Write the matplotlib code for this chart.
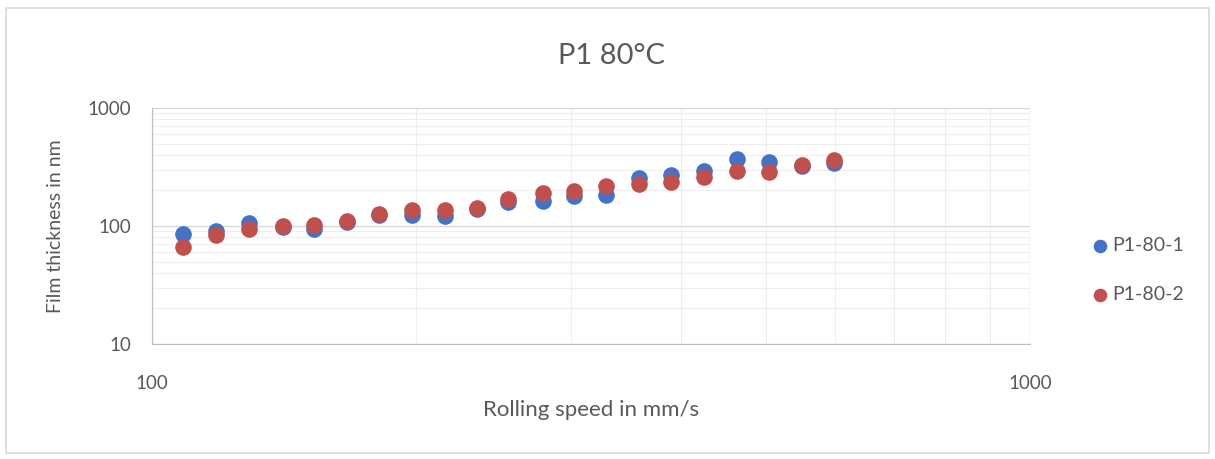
import numpy as np
import matplotlib.pyplot as plt
from matplotlib.ticker import LogLocator, FixedLocator, NullFormatter
from matplotlib.patches import Rectangle

plt.rcParams['font.family'] = ['Lato', 'DejaVu Sans']

speed = [108.5, 118.3, 129.0, 141.0, 152.9, 166.8, 181.4, 197.8, 215.7, 234.6,
         254.4, 278.8, 302.4, 329.0, 358.6, 390.0, 425.3, 463.9, 504.4, 549.9, 598.4]
film_1 = [85.5, 91.3, 106, 98, 94.4, 108, 125, 125, 120.5, 140,
          158.6, 161.6, 180.6, 184, 255, 272, 290, 372, 349, 322, 342]
film_2 = [65.9, 83.2, 94.4, 99.3, 102.6, 109.4, 127, 135.5, 137, 142,
          169.5, 190.5, 196.5, 219.6, 228, 236, 258, 294, 287, 327, 365]
labels = ["P1-80-1", "P1-80-2"]

txt = "#595959"
fig = plt.figure(figsize=(12.15, 4.59), dpi=100)
fig.patches.append(Rectangle((0.005, 0.012), 0.99, 0.97, transform=fig.transFigure,
                             fill=False, edgecolor="#d9d9d9", lw=1.2))
ax = fig.add_axes([0.1251, 0.2505, 0.7226, 0.5142])

ax.scatter(speed, film_1, s=120, color="#4472C4", label=labels[0], zorder=3)
ax.scatter(speed, film_2, s=120, color="#C0504D", label=labels[1], zorder=4)

ax.set_xscale("log")
ax.set_yscale("log")
ax.set_xlim(100, 1000)
ax.set_ylim(10, 1000)

ax.xaxis.set_major_locator(FixedLocator([100, 1000]))
ax.yaxis.set_major_locator(FixedLocator([10, 100, 1000]))
ax.xaxis.set_minor_locator(LogLocator(base=10, subs=np.arange(2, 10)))
ax.yaxis.set_minor_locator(LogLocator(base=10, subs=np.arange(2, 10)))
ax.xaxis.set_minor_formatter(NullFormatter())
ax.yaxis.set_minor_formatter(NullFormatter())
ax.set_xticklabels(["100", "1000"])
ax.set_yticklabels(["10", "100", "1000"])

ax.grid(True, which="major", color="#d9d9d9", lw=1.0)
ax.grid(True, which="minor", color="#eeeeee", lw=0.8)
ax.set_axisbelow(True)
ax.tick_params(which="both", length=0, colors=txt, labelsize=13.5)
ax.tick_params(axis="x", pad=22)
ax.tick_params(axis="y", pad=15)
for side in ["top", "right"]:
    ax.spines[side].set_visible(False)
for side in ["left", "bottom"]:
    ax.spines[side].set_color("#bfbfbf")

# chart title is centred on the whole chart area, not on the plot area
fig.text(0.503, 0.878, "P1 80°C", fontsize=21, color=txt, ha="center", va="center")
ax.set_xlabel("Rolling speed in mm/s", fontsize=16, color=txt, labelpad=6)
ax.set_ylabel("Film thickness in nm", fontsize=14, color=txt, labelpad=17)

leg = ax.legend(loc="center left", bbox_to_anchor=(1.058, 0.315), frameon=False,
                borderaxespad=0, borderpad=0, fontsize=14, labelspacing=1.65,
                handletextpad=-0.4, markerscale=0.8)
for t in leg.get_texts():
    t.set_color(txt)

fig.savefig("out.png", dpi=100)
